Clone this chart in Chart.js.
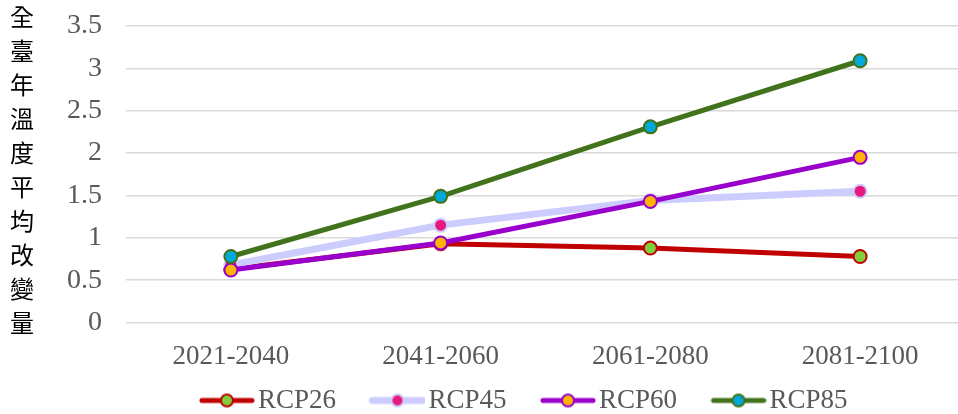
<!DOCTYPE html>
<html>
<head>
<meta charset="utf-8">
<script src="https://cdn.jsdelivr.net/npm/chart.js@4"></script>
<style>
  html, body { margin: 0; padding: 0; background: #fff; overflow: hidden; }
  #wrap { width: 965px; height: 424px; position: relative; }
</style>
</head>
<body>
<div id="wrap"><canvas id="chart"></canvas></div>
<script>
// categories and series
const periods = ["2021-2040", "2041-2060", "2061-2080", "2081-2100"];
const rcp26 = [0.63, 0.93, 0.88, 0.78];
const rcp45 = [0.68, 1.15, 1.44, 1.55];
const rcp60 = [0.62, 0.94, 1.43, 1.95];
const rcp85 = [0.78, 1.49, 2.31, 3.09];
const yTitle = "全臺年溫度平均改變量";

const serif = "'Liberation Serif', 'Times New Roman', serif";
const gray = "#595959";

// legend marker: blank left part, then short line + circle at the right
const markerBox = 75;
const markerW = markerBox + 21;
function marker(line, fill, border, lw) {
  const c = document.createElement("canvas");
  c.width = markerW;
  c.height = 16;
  const g = c.getContext("2d");
  const x0 = markerW - 56;
  g.strokeStyle = line;
  g.lineWidth = lw;
  g.lineCap = "round";
  g.beginPath();
  g.moveTo(x0 + 3, 8);
  g.lineTo(x0 + 53, 8);
  g.stroke();
  g.beginPath();
  g.arc(x0 + 28, 8, 6, 0, Math.PI * 2);
  g.fillStyle = fill;
  g.fill();
  g.lineWidth = 2;
  g.strokeStyle = border;
  g.stroke();
  return c;
}

const series = [
  { label: "RCP26", data: rcp26, line: "#c00000", fill: "#7dcf3b", border: "#c00000", lw: 5, order: 3 },
  { label: "RCP45", data: rcp45, line: "#ccccff", fill: "#e8197d", border: "#ccccff", lw: 7, order: 2 },
  { label: "RCP60", data: rcp60, line: "#9900cc", fill: "#ffb400", border: "#9900cc", lw: 5, order: 1 },
  { label: "RCP85", data: rcp85, line: "#41721c", fill: "#00a9d8", border: "#41721c", lw: 5, order: 0 },
];

const datasets = series.map((s) => ({
  label: s.label,
  data: s.data,
  borderColor: s.line,
  borderWidth: s.lw,
  backgroundColor: s.fill,
  pointBackgroundColor: s.fill,
  pointBorderColor: s.border,
  pointBorderWidth: 2,
  pointRadius: 6.5,
  tension: 0,
  order: s.order,
  legendMarker: marker(s.line, s.fill, s.border, s.lw),
}));

// vertical y title, one character per line
const yTitlePlugin = {
  id: "yTitle",
  afterDraw(chart) {
    const g = chart.ctx;
    g.save();
    g.font = "24px 'Noto Sans CJK TC', sans-serif";
    g.fillStyle = "#000";
    g.textAlign = "center";
    g.textBaseline = "middle";
    [...yTitle].forEach((ch, i) => {
      g.fillText(ch, 22, 17 + i * 34);
    });
    g.restore();
  },
};

// the legend sits a bit right of the canvas centre
const legendShift = {
  id: "legendShift",
  afterLayout(chart) {
    const l = chart.legend;
    if (!l) return;
    l.left += 26;
    l.right += 26;
  },
};

new Chart(document.getElementById("chart"), {
  type: "line",
  data: { labels: periods, datasets: datasets },
  options: {
    responsive: true,
    maintainAspectRatio: false,
    animation: false,
    layout: { autoPadding: false, padding: { top: 26, right: 0, bottom: 0, left: 0 } },
    scales: {
      x: {
        offset: true,
        grid: { display: false, offset: true },
        border: { display: false },
        ticks: { color: gray, font: { family: serif, size: 27 }, padding: 10 },
      },
      y: {
        min: 0,
        max: 3.5,
        afterFit: (s) => { s.width = 126; },
        grid: { color: "#d9d9d9", lineWidth: 1.5, drawTicks: true, tickLength: 24, tickColor: "rgba(0,0,0,0)" },
        border: { display: false },
        ticks: {
          stepSize: 0.5,
          autoSkip: false,
          color: gray,
          padding: 0,
          font: { family: serif, size: 28 },
          callback: (v) => String(v),
        },
      },
    },
    plugins: {
      tooltip: { enabled: false },
      legend: {
        position: "bottom",
        labels: {
          usePointStyle: true,
          pointStyleWidth: markerBox,
          color: gray,
          font: { family: serif, size: 27 },
          padding: 4,
          generateLabels: (chart) =>
            chart.data.datasets.map((ds, i) => ({
              text: ds.label,
              pointStyle: ds.legendMarker,
              fontColor: gray,
              datasetIndex: i,
              hidden: false,
              lineWidth: 0,
              strokeStyle: "transparent",
              fillStyle: "transparent",
            })),
        },
      },
    },
  },
  plugins: [yTitlePlugin, legendShift],
});
</script>
</body>
</html>
